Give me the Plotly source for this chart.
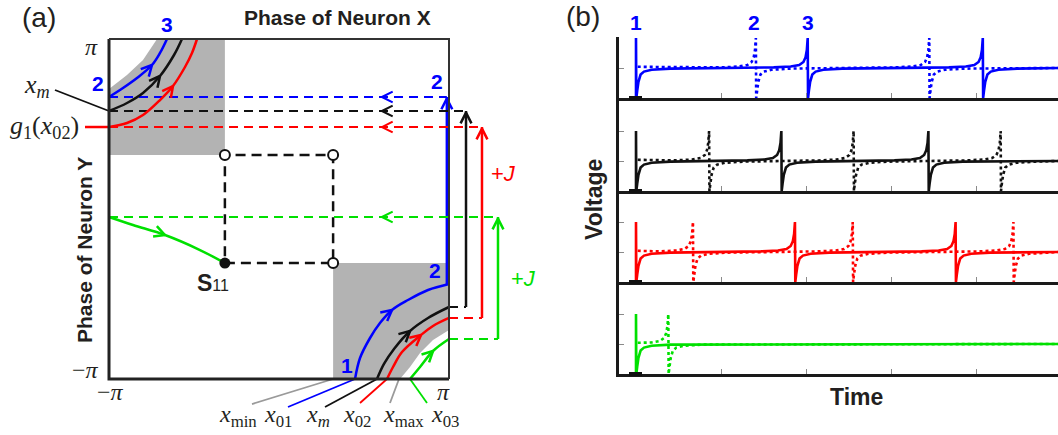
import numpy as np
import plotly.graph_objects as go

W, H = 1058, 435
PI = np.pi

# ------------------------------------------------------------------ data
# Panel (a): phase plane (phase of neuron X, phase of neuron Y), radians
TL_BLUE_X = [-PI, -2.883, -2.624, -2.347, -2.199, -2.070]
TL_BLUE_Y = [2.070, 2.236, 2.421, 2.661, 2.883, PI]
TL_BLACK_X = [-PI, -2.809, -2.513, -2.199, -1.940, -1.793]
TL_BLACK_Y = [1.811, 1.959, 2.144, 2.458, 2.846, PI]
TL_RED_X = [-PI, -2.809, -2.513, -2.199, -1.959, -1.737, -1.608, -1.515]
TL_RED_Y = [1.515, 1.589, 1.737, 2.014, 2.273, 2.624, 2.883, PI]

BR_BLUE_X = [1.405, 1.497, 1.682, 1.866, 2.088, 2.384, 2.754, PI]
BR_BLUE_Y = [-PI, -2.754, -2.384, -2.107, -1.866, -1.682, -1.497, -1.386]
BR_BLACK_X = [1.811, 1.940, 2.125, 2.421, 2.754, PI]
BR_BLACK_Y = [-PI, -2.864, -2.587, -2.254, -2.014, -1.811]
BR_RED_X = [1.996, 2.107, 2.273, 2.624, 2.846, PI]
BR_RED_Y = [-PI, -2.920, -2.643, -2.329, -2.162, -2.014]
BR_GREEN_X = [2.421, 2.606, 2.846, PI]
BR_GREEN_Y = [-PI, -2.920, -2.624, -2.402]

MID_GREEN_X = [-PI, -2.698, -2.107, -1.460, -1.0]
MID_GREEN_Y = [-0.148, -0.296, -0.481, -0.758, -1.0]

GRAY_TL_X = [-PI, -1.0, -1.0, -2.254, -2.513, -2.809, -PI]
GRAY_TL_Y = [1.0, 1.0, PI, PI, 2.754, 2.476, 2.217]
GRAY_BR_X = [1.0, 1.0, PI, PI, 2.846, 2.606, 2.421, 2.236]
GRAY_BR_Y = [-PI, -1.0, -1.0, -2.236, -2.421, -2.661, -2.920, -PI]

SQUARE_X = [-1.0, 1.0, 1.0, -1.0, -1.0]
SQUARE_Y = [-1.0, -1.0, 1.0, 1.0, -1.0]
OPEN_X = [-1.0, 1.0, 1.0]
OPEN_Y = [1.0, 1.0, -1.0]
S11_X, S11_Y = [-1.0], [-1.0]

# kicks (+J): colour, x of vertical arrow, start phase, end phase
JUMP_COLORS = ["#0000FF", "#111111", "#FF0000", "#00E000"]
JUMP_X = [PI - 0.04, 3.456, 3.751, 4.047]
JUMP_Y0 = [-1.386, -1.811, -2.014, -2.402]
JUMP_Y1 = [2.070, 1.811, 1.515, -0.148]
DASH_ARROW_X = 1.903

# bottom pointer lines to the x-labels
PTR_COLORS = ["#9A9A9A", "#0000FF", "#111111", "#FF0000", "#9A9A9A", "#00E000"]
PTR_X0 = [-0.499, 0.166, 0.850, 1.497, 2.051, 2.735]
PTR_Y0 = [-3.604, -3.659, -3.659, -3.585, -3.585, -3.585]
PTR_X1 = [1.0, 1.405, 1.811, 1.996, 2.217, 2.421]
PTR_Y1 = [-PI, -PI, -PI, -PI, -PI, -PI]

XM_PTR_X, XM_PTR_Y = [-4.140, -PI], [2.199, 1.811]
G1_PTR_X, G1_PTR_Y = [-3.585, -PI], [1.515, 1.515]

# Panel (b): spike times (time units) of solid / dotted traces
BLUE_SOLID = [0.0, 2.02, 4.08]
BLUE_DOT = [1.41, 3.45]
BLACK_SOLID = [0.0, 1.71, 3.44]
BLACK_DOT = [0.86, 2.56, 4.29]
RED_SOLID = [0.0, 1.87, 3.76]
RED_DOT = [0.67, 2.55, 4.44]
GREEN_SOLID = [0.0]
GREEN_DOT = [0.38]
DOT_START_T, DOT_START_V = 0.02, 0.52

# spike waveform (time after / before a spike, level)
AFTER_DT = [0.0, 0.01, 0.025, 0.05, 0.09, 0.18, 0.4]
AFTER_V = [0.0, 0.12, 0.27, 0.39, 0.44, 0.47, 0.49]
BEFORE_DT = [0.4, 0.2, 0.1, 0.05, 0.025, 0.01, 0.0]
BEFORE_V = [0.51, 0.525, 0.55, 0.6, 0.68, 0.8, 1.0]
END_V = 0.5

# ------------------------------------------------------------------ layout constants
SANS = "Liberation Sans, Arial, sans-serif"
SERIF = "Liberation Serif, Times New Roman, serif"
TXT = "#231F20"
BLUE, BLACK, RED, GREEN, GRAY = "#0000FF", "#111111", "#FF0000", "#00E000", "#B3B3B3"

SQ_L, SQ_R, SQ_T, SQ_B = 109, 449, 39, 379
K = (SQ_R - SQ_L) / (2 * PI)
A_L, A_R, A_T, A_B = 40, 560, 12, 432


def px2x(px):
    return -PI + (px - SQ_L) / K


def py2y(py):
    return -PI + (SQ_B - py) / K


B_LEFT, T0_PX, T_UNIT = 619, 636, 85.0
T_RANGE = [(B_LEFT - T0_PX) / T_UNIT, (W - T0_PX) / T_UNIT]
PANEL_TOPS = [37, 98, 191, 282]
PANEL_BOTS = [98, 191, 282, 374]
LEVEL_PX = 60.0

fig = go.Figure()


def line(x, y, color, width=2.5, dash=None, shape="linear", xa="x", ya="y"):
    fig.add_trace(go.Scatter(x=x, y=y, mode="lines", xaxis=xa, yaxis=ya,
                             line=dict(color=color, width=width, dash=dash, shape=shape),
                             hoverinfo="skip", showlegend=False))


def chevron(tx, ty, dx, dy, L=12 / K, ang=np.radians(27)):
    n = np.hypot(dx, dy)
    bx, by = -dx / n, -dy / n
    c, s = np.cos(ang), np.sin(ang)
    w1 = (tx + L * (bx * c - by * s), ty + L * (bx * s + by * c))
    w2 = (tx + L * (bx * c + by * s), ty + L * (-bx * s + by * c))
    return [w1[0], tx, w2[0], None], [w1[1], ty, w2[1], None]


# ---- panel (a)
fig.add_trace(go.Scatter(x=GRAY_TL_X, y=GRAY_TL_Y, fill="toself", fillcolor=GRAY, mode="none",
                         hoverinfo="skip", showlegend=False))
fig.add_trace(go.Scatter(x=GRAY_BR_X, y=GRAY_BR_Y, fill="toself", fillcolor=GRAY, mode="none",
                         hoverinfo="skip", showlegend=False))

line(SQUARE_X, SQUARE_Y, BLACK, 2.5, "10px,6px")

for c, jx, y0, y1 in zip(JUMP_COLORS, JUMP_X, JUMP_Y0, JUMP_Y1):
    line([-PI, jx], [y1, y1], c, 2, "9px,6px")
    if jx > PI:
        line([PI, jx], [y0, y0], c, 2, "9px,6px")
    line([jx, jx], [y0, y1], c, 2.5)
    cx, cy = chevron(jx, y1 - 0.03, 0, 1)
    line(cx, cy, c, 2.5)
    cx, cy = chevron(DASH_ARROW_X, y1, -1, 0)
    line(cx, cy, c, 2)

curves = [
    (TL_BLUE_X, TL_BLUE_Y, BLUE, 3), (TL_BLACK_X, TL_BLACK_Y, BLACK, 3), (TL_RED_X, TL_RED_Y, RED, 4),
    (BR_BLUE_X, BR_BLUE_Y, BLUE, 4), (BR_BLACK_X, BR_BLACK_Y, BLACK, 3), (BR_RED_X, BR_RED_Y, RED, 3),
    (BR_GREEN_X, BR_GREEN_Y, GREEN, 2), (MID_GREEN_X, MID_GREEN_Y, GREEN, 2),
]
for cxs, cys, col, ai in curves:
    line(cxs, cys, col, 2.5, shape="spline")
    hx, hy = chevron(cxs[ai], cys[ai], cxs[ai + 1] - cxs[ai - 1], cys[ai + 1] - cys[ai - 1])
    line(hx, hy, col, 2.5)

for c, x0, y0, x1, y1 in zip(PTR_COLORS, PTR_X0, PTR_Y0, PTR_X1, PTR_Y1):
    line([x0, x1], [y0, y1], c, 1.8)
line(XM_PTR_X, XM_PTR_Y, BLACK, 1.8)
line(G1_PTR_X, G1_PTR_Y, RED, 2.5)

# frame of the phase square
line([-PI, -PI, PI], [PI, -PI, -PI], "#222222", 3)
line([-PI, PI, PI], [PI, PI, -PI], "#333333", 2)

fig.add_trace(go.Scatter(x=OPEN_X, y=OPEN_Y, mode="markers", hoverinfo="skip", showlegend=False,
                         marker=dict(size=10, color="white", line=dict(color=BLACK, width=2))))
fig.add_trace(go.Scatter(x=S11_X, y=S11_Y, mode="markers", hoverinfo="skip", showlegend=False,
                         marker=dict(size=11, color=BLACK)))


# ---- panel (b)
def voltage_path(spikes, dotted):
    xs, ys = [], []
    if dotted:
        xs.append(DOT_START_T); ys.append(DOT_START_V)
        prev, queue, fired = DOT_START_T, list(spikes), False
    else:
        xs += [spikes[0], spikes[0]]; ys += [0.0, 1.0]
        prev, queue, fired = spikes[0], list(spikes[1:]), True
    for s in queue:
        gap = s - prev
        if fired:
            for dt, v in zip(AFTER_DT, AFTER_V):
                if dt < gap / 2:
                    xs.append(prev + dt + 0.004); ys.append(v)
        lim = gap / 2 if fired else gap
        for dt, v in zip(BEFORE_DT, BEFORE_V):
            if dt < lim:
                xs.append(s - dt); ys.append(v)
        prev, fired = s, True
    for dt, v in zip(AFTER_DT, AFTER_V):
        xs.append(prev + dt + 0.004); ys.append(v)
    xs.append(T_RANGE[1]); ys.append(END_V)
    return xs, ys


panels = [(BLUE, BLUE_SOLID, BLUE_DOT), (BLACK, BLACK_SOLID, BLACK_DOT),
          (RED, RED_SOLID, RED_DOT), (GREEN, GREEN_SOLID, GREEN_DOT)]
layout_axes = {}
shapes = []
for i, (col, sol, dot) in enumerate(panels):
    n = i + 2
    xa, ya = f"x{n}", f"y{n}"
    dx, dy = voltage_path(dot, True)
    line(dx, dy, col, 2.6, "dot", xa=xa, ya=ya)
    sx, sy = voltage_path(sol, False)
    line(sx, sy, col, 2.6, xa=xa, ya=ya)
    top, bot = PANEL_TOPS[i], PANEL_BOTS[i]
    layout_axes[f"xaxis{n}"] = dict(domain=[B_LEFT / W, 1], range=T_RANGE, anchor=ya,
                                    showline=True, linewidth=3, linecolor="#1a1a1a",
                                    ticks="inside", tickvals=[1, 2, 3, 4], ticklen=5, tickwidth=1,
                                    tickcolor="#8a8a8a", showticklabels=False, showgrid=False,
                                    zeroline=False, fixedrange=True)
    layout_axes[f"yaxis{n}"] = dict(domain=[1 - bot / H, 1 - top / H], range=[0, (bot - top) / LEVEL_PX],
                                    anchor=xa, showline=True, linewidth=2.5, linecolor="#1a1a1a",
                                    ticks="inside", tickvals=[0.5, 1.0], ticklen=5, tickwidth=1,
                                    tickcolor="#8a8a8a", showticklabels=False, showgrid=False,
                                    zeroline=False, fixedrange=True)
    shapes.append(dict(type="rect", xref="paper", yref="paper", x0=629 / W, x1=642 / W,
                       y0=1 - (bot + 2) / H, y1=1 - (bot - 2) / H, fillcolor="#111111",
                       line=dict(width=0)))

# ---- text
anns = []


def ann(px, py, text, size, color=TXT, family=SANS, angle=0, xanchor="center"):
    anns.append(dict(x=px / W, y=1 - py / H, xref="paper", yref="paper", text=text, showarrow=False,
                     xanchor=xanchor, yanchor="middle", textangle=angle,
                     font=dict(size=size, color=color, family=family)))


ann(39, 17, "(a)", 28)
ann(583, 16, "(b)", 28)
ann(337, 18, "<b>Phase of Neuron X</b>", 21)
ann(85, 250, "<b>Phase of Neuron Y</b>", 21, angle=-90)
ann(594, 200, "<b>Voltage</b>", 23, angle=-90)
ann(856, 397, "<b>Time</b>", 23)

ann(91, 47, "<i>π</i>", 24, family=SERIF)
ann(85, 370, "−<i>π</i>", 24, family=SERIF)
ann(110, 392, "−<i>π</i>", 24, family=SERIF)
ann(443, 392, "<i>π</i>", 24, family=SERIF)
ann(37, 86, "<i>x</i><sub><i>m</i></sub>", 26, family=SERIF)
ann(44, 127, "<i>g</i><sub>1</sub>(<i>x</i><sub>02</sub>)", 26, family=SERIF)

for px, txt in [(238, "<i>x</i><sub>min</sub>"), (278, "<i>x</i><sub>01</sub>"),
                (318, "<i>x</i><sub><i>m</i></sub>"), (357, "<i>x</i><sub>02</sub>"),
                (403, "<i>x</i><sub>max</sub>"), (445, "<i>x</i><sub>03</sub>")]:
    ann(px, 416, txt, 24, family=SERIF)

ann(213, 283, "<b>S</b><span style='font-size:16px'>11</span>", 23)

for px, py, t in [(98, 83, "2"), (167, 24, "3"), (437, 82, "2"), (347, 365, "1"), (435, 270, "2"),
                  (636, 22, "1"), (754, 22, "2"), (808, 22, "3")]:
    ann(px, py, f"<b>{t}</b>", 21, color=BLUE)

ann(503, 173, "+<i>J</i>", 22, color=RED)
ann(523, 278, "+<i>J</i>", 22, color=GREEN)

fig.update_layout(
    width=W, height=H, margin=dict(l=0, r=0, t=0, b=0),
    paper_bgcolor="white", plot_bgcolor="white", showlegend=False,
    xaxis=dict(domain=[A_L / W, A_R / W], range=[px2x(A_L), px2x(A_R)], visible=False, fixedrange=True),
    yaxis=dict(domain=[1 - A_B / H, 1 - A_T / H], range=[py2y(A_B), py2y(A_T)], visible=False,
               fixedrange=True),
    annotations=anns, shapes=shapes,
    **layout_axes,
)

fig.write_html("out.html")
